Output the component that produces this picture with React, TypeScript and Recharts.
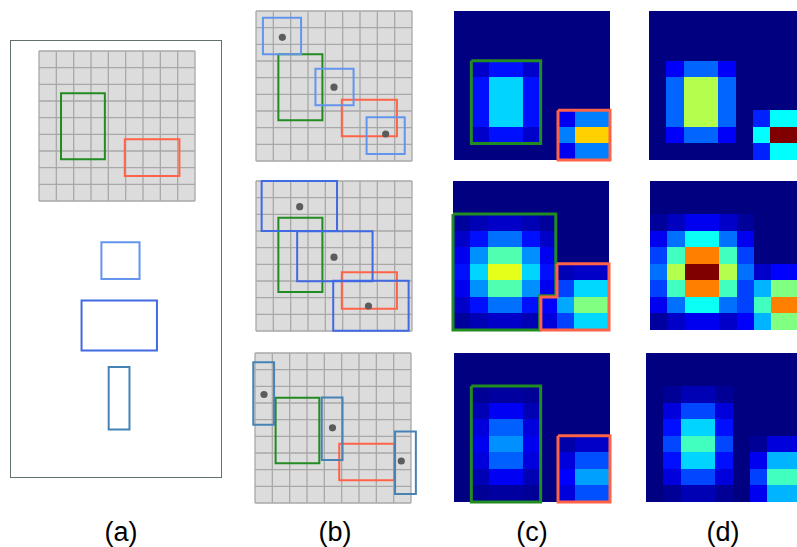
import React from "react";
import { CartesianGrid, ReferenceArea, Scatter, ScatterChart, XAxis, YAxis } from "recharts";

// every panel is a 9x9 cell grid; values below are in cell units
const cellTicks = [0, 1, 2, 3, 4, 5, 6, 7, 8, 9];

// ground-truth boxes [x1, x2, y1, y2]: (a), then (b) rows 1..3
const truthGreen = [
  [1.27, 3.8, 2.53, 6.5],
  [1.29, 3.83, 2.59, 6.55],
  [1.29, 3.83, 2.2, 6.66],
  [1.19, 3.71, 2.69, 6.62],
];
const truthRed = [
  [4.95, 8.1, 5.3, 7.5],
  [4.95, 8.13, 5.33, 7.52],
  [4.95, 8.13, 5.47, 7.66],
  [4.86, 8.04, 5.45, 7.63],
];

// anchor shapes [w, h]
const anchorSizes = [
  [2.2, 2.2],
  [4.35, 3.0],
  [1.2, 3.75],
];
// anchor centres in panel (a), below the grid
const aAnchorCenters = [
  [4.7, 2.07],
  [4.63, 5.96],
  [4.62, 10.32],
];
// anchor box centres and their dots, panel (b) rows
const bBoxCenters = [
  [[1.5, 1.5], [4.53, 4.56], [7.48, 7.48]],
  [[2.5, 1.5], [4.55, 4.52], [6.63, 7.48]],
  [[0.5, 2.43], [4.45, 4.55], [8.68, 6.58]],
];
const bDots = [
  [[1.52, 1.58], [4.5, 4.57], [7.48, 7.38]],
  [[2.52, 1.54], [4.5, 4.57], [6.49, 7.5]],
  [[0.52, 2.49], [4.47, 4.49], [8.44, 6.48]],
];

// heat values (0..1, jet colour map), row by row
const z = [0, 0, 0, 0, 0, 0, 0, 0, 0];
const cTop = [
  z, z, z,
  [0, 0.074, 0.141, 0.141, 0.074, 0, 0, 0, 0],
  [0, 0.141, 0.333, 0.333, 0.141, 0, 0, 0, 0],
  [0, 0.141, 0.333, 0.333, 0.141, 0, 0, 0, 0],
  [0, 0.141, 0.333, 0.333, 0.141, 0, 0.11, 0.25, 0.25],
  [0, 0.074, 0.141, 0.141, 0.074, 0, 0.25, 0.67, 0.67],
  [0, 0, 0, 0, 0, 0, 0.11, 0.25, 0.25],
];
const dTop = [
  z, z, z,
  [0, 0.12, 0.225, 0.225, 0.12, 0, 0, 0, 0],
  [0, 0.225, 0.551, 0.551, 0.225, 0, 0, 0, 0],
  [0, 0.225, 0.551, 0.551, 0.225, 0, 0, 0, 0],
  [0, 0.225, 0.551, 0.551, 0.225, 0, 0.156, 0.375, 0.375],
  [0, 0.12, 0.225, 0.225, 0.12, 0, 0.375, 1, 1],
  [0, 0, 0, 0, 0, 0, 0.156, 0.375, 0.375],
];
const cMid = [
  z, z,
  [0.026, 0.051, 0.071, 0.071, 0.051, 0.026, 0, 0, 0],
  [0.071, 0.141, 0.235, 0.235, 0.141, 0.071, 0, 0, 0],
  [0.11, 0.266, 0.453, 0.453, 0.266, 0.11, 0, 0, 0],
  [0.141, 0.333, 0.6, 0.6, 0.333, 0.141, 0.051, 0.071, 0.071],
  [0.11, 0.266, 0.453, 0.453, 0.266, 0.11, 0.19, 0.337, 0.337],
  [0.071, 0.141, 0.235, 0.235, 0.141, 0.125, 0.29, 0.5, 0.5],
  [0.026, 0.051, 0.071, 0.071, 0.051, 0.091, 0.19, 0.337, 0.337],
];
const dMid = [
  z, z,
  [0.026, 0.063, 0.11, 0.11, 0.071, 0.026, 0, 0, 0],
  [0.11, 0.235, 0.385, 0.385, 0.235, 0.11, 0, 0, 0],
  [0.1875, 0.4375, 0.75, 0.75, 0.4375, 0.1875, 0, 0, 0],
  [0.235, 0.551, 1, 1, 0.551, 0.235, 0.071, 0.125, 0.125],
  [0.1875, 0.4375, 0.75, 0.75, 0.4375, 0.1875, 0.301, 0.5, 0.5],
  [0.11, 0.235, 0.385, 0.385, 0.235, 0.19, 0.4375, 0.75, 0.75],
  [0.03, 0.071, 0.11, 0.11, 0.071, 0.125, 0.301, 0.5, 0.5],
];
const cBot = [
  z, z,
  [0, 0.022, 0.032, 0.032, 0.022, 0, 0, 0, 0],
  [0, 0.051, 0.115, 0.115, 0.051, 0, 0, 0, 0],
  [0, 0.091, 0.219, 0.219, 0.091, 0, 0, 0, 0],
  [0, 0.11, 0.266, 0.266, 0.11, 0, 0.04, 0.071, 0.071],
  [0, 0.091, 0.219, 0.219, 0.091, 0, 0.091, 0.203, 0.203],
  [0, 0.051, 0.115, 0.115, 0.051, 0, 0.125, 0.282, 0.282],
  [0, 0.022, 0.032, 0.032, 0.022, 0, 0.091, 0.203, 0.203],
];
const dBot = [
  z, z,
  [0, 0.022, 0.051, 0.051, 0.022, 0, 0, 0, 0],
  [0, 0.091, 0.195, 0.195, 0.091, 0, 0, 0, 0],
  [0, 0.141, 0.333, 0.333, 0.141, 0, 0, 0, 0],
  [0, 0.195, 0.4375, 0.4375, 0.195, 0, 0.022, 0.091, 0.091],
  [0, 0.141, 0.333, 0.333, 0.141, 0, 0.11, 0.301, 0.301],
  [0, 0.091, 0.195, 0.195, 0.091, 0, 0.1875, 0.4375, 0.4375],
  [0, 0.022, 0.051, 0.051, 0.022, 0, 0.11, 0.301, 0.301],
];

// outlines drawn over the (c) heat maps
const cGreenOutlines = [
  [[1, 3], [5, 3], [5, 8], [1, 8], [1, 3]],
  [[0, 2], [5.93, 2], [5.93, 6.93], [5, 6.93], [5, 9], [0, 9], [0, 2]],
  [[1, 2], [5, 2], [5, 9], [1, 9], [1, 2]],
];
const cRedOutlines = [
  [[6, 6], [9, 6], [9, 9], [6, 9], [6, 6]],
  [[6, 5], [9, 5], [9, 9], [5.07, 9], [5.07, 7], [6, 7], [6, 5]],
  [[6, 5], [9, 5], [9, 9], [6, 9], [6, 5]],
];

const panelLabels = ["(a)", "(b)", "(c)", "(d)"];

const PAD = 4;
const GREEN = "#228B22";
const RED = "#FF6347";
const anchorColors = ["#6495ED", "#4169E1", "#4682B4"];

function jet(v: number) {
  const c = (x: number) => Math.round(Math.max(0, Math.min(1, x)) * 255);
  const hex = (n: number) => n.toString(16).padStart(2, "0");
  const r = c(1.5 - Math.abs(4 * v - 3));
  const g = c(1.5 - Math.abs(4 * v - 2));
  const b = c(1.5 - Math.abs(4 * v - 1));
  return `#${hex(r)}${hex(g)}${hex(b)}`;
}

const NoDot = () => <g />;

// plain pixel-snapped rect so neighbouring cells leave no seams
const CellRect = (p: any) => (
  <rect x={p.x} y={p.y} width={p.width} height={p.height} fill={p.fill} shapeRendering="crispEdges" />
);

function Panel({
  left,
  top,
  width = 156,
  height = 150,
  yMax = 9,
  grid = false,
  children,
}: {
  left: number;
  top: number;
  width?: number;
  height?: number;
  yMax?: number;
  grid?: boolean;
  children?: React.ReactNode;
}) {
  // invisible corners so the axes always get their domain
  const corners = [
    { x: 0, y: 0 },
    { x: 9, y: yMax },
  ];
  return (
    <div style={{ position: "absolute", left: left - PAD, top: top - PAD }}>
      <ScatterChart
        width={width + 2 * PAD}
        height={height + 2 * PAD}
        margin={{ top: PAD, right: PAD, bottom: PAD, left: PAD }}
      >
        <XAxis type="number" dataKey="x" domain={[0, 9]} ticks={cellTicks} interval={0} hide />
        <YAxis type="number" dataKey="y" domain={[0, yMax]} ticks={cellTicks} interval={0} reversed hide />
        {grid && <CartesianGrid stroke="#a8a8a8" strokeWidth={1.3} fill="#dcdcdc" fillOpacity={1} />}
        <Scatter data={corners} shape={NoDot} isAnimationActive={false} />
        {children}
      </ScatterChart>
    </div>
  );
}

function boxArea(b: number[], color: string, key: string) {
  return (
    <ReferenceArea
      key={key}
      x1={b[0]}
      x2={b[1]}
      y1={b[2]}
      y2={b[3]}
      fill="none"
      stroke={color}
      strokeWidth={2}
      ifOverflow="visible"
    />
  );
}

function anchorArea(center: number[], size: number[], color: string, key: string) {
  return boxArea(
    [center[0] - size[0] / 2, center[0] + size[0] / 2, center[1] - size[1] / 2, center[1] + size[1] / 2],
    color,
    key
  );
}

function heatCells(values: number[][]) {
  return values.flatMap((row, r) =>
    row.map((v, c) => (
      <ReferenceArea
        key={`h${r}-${c}`}
        x1={c}
        x2={c + 1}
        y1={r}
        y2={r + 1}
        fill={jet(v)}
        fillOpacity={1}
        shape={CellRect}
        ifOverflow="visible"
      />
    ))
  );
}

function outline(points: number[][], color: string, key: string) {
  return (
    <Scatter
      key={key}
      data={points.map(([x, y]) => ({ x, y }))}
      fill={color}
      line={{ stroke: color, strokeWidth: 3, strokeLinejoin: "miter" }}
      lineType="joint"
      shape={NoDot}
      isAnimationActive={false}
    />
  );
}

const bTops = [11, 181, 353];
const bLefts = [256, 256, 255];
const cPos = [
  [454, 11],
  [453, 181],
  [454, 353],
];
const dPos = [
  [649, 11],
  [650, 181],
  [646, 353],
];
const cValues = [cTop, cMid, cBot];
const dValues = [dTop, dMid, dBot];
const labelCenters = [121, 335, 532, 723];

export default function App() {
  return (
    <div
      style={{
        position: "absolute",
        left: 0,
        top: 0,
        width: 797,
        height: 547,
        overflow: "hidden",
        background: "#fff",
        fontFamily: '"Liberation Sans", Arial, sans-serif',
      }}
    >
      <style>{`.recharts-surface { overflow: visible; }`}</style>

      {/* (a) */}
      <div
        style={{
          position: "absolute",
          left: 10,
          top: 40,
          width: 212,
          height: 438,
          boxSizing: "border-box",
          border: "1px solid #5e7070",
        }}
      />
      <Panel left={39} top={51} grid>
        {boxArea(truthGreen[0], GREEN, "g")}
        {boxArea(truthRed[0], RED, "r")}
      </Panel>
      <Panel left={39} top={226} height={217} yMax={13}>
        {aAnchorCenters.map((c, i) => anchorArea(c, anchorSizes[i], anchorColors[i], `a${i}`))}
      </Panel>

      {/* (b) */}
      {bTops.map((top, row) => (
        <Panel key={`b${row}`} left={bLefts[row]} top={top} grid>
          {boxArea(truthGreen[row + 1], GREEN, "g")}
          {boxArea(truthRed[row + 1], RED, "r")}
          {bBoxCenters[row].map((c, i) => anchorArea(c, anchorSizes[row], anchorColors[row], `b${i}`))}
          <Scatter
            data={bDots[row].map(([x, y]) => ({ x, y }))}
            fill="#5c5c5c"
            shape={(p: any) => <circle cx={p.cx} cy={p.cy} r={3.6} fill="#5c5c5c" />}
            isAnimationActive={false}
          />
        </Panel>
      ))}

      {/* (c) */}
      {cPos.map(([left, top], row) => (
        <Panel key={`c${row}`} left={left} top={top} height={149}>
          {heatCells(cValues[row])}
          {outline(cGreenOutlines[row], GREEN, "g")}
          {outline(cRedOutlines[row], RED, "r")}
        </Panel>
      ))}

      {/* (d) */}
      {dPos.map(([left, top], row) => (
        <Panel key={`d${row}`} left={left} top={top} height={149}>
          {heatCells(dValues[row])}
        </Panel>
      ))}

      {panelLabels.map((label, i) => (
        <div
          key={label}
          style={{
            position: "absolute",
            left: labelCenters[i] - 40,
            top: 519,
            width: 80,
            textAlign: "center",
            fontSize: 27,
            lineHeight: "27px",
            color: "#000",
          }}
        >
          {label}
        </div>
      ))}
    </div>
  );
}
